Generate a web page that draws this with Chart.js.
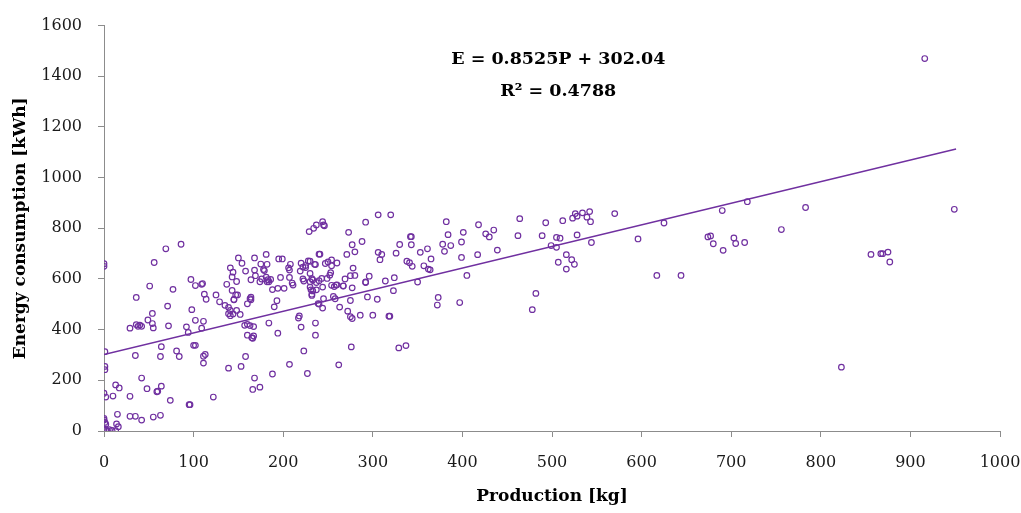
<!DOCTYPE html>
<html lang="en">
<head>
  <meta charset="UTF-8">
  <title>Energy vs Production</title>
  <script src="https://cdn.jsdelivr.net/npm/chart.js"></script>
  <style>
    body { margin: 0; background: #fff; }
    #wrap { position: relative; width: 1021px; height: 513px; }
  </style>
</head>
<body>
  <div id="wrap">
    <canvas id="scatterChart"></canvas>
  </div>

  <script>
    // production [kg] and energy consumption [kWh], one entry per point
    const production = [
      0, 0, 1, 1, 1, 0, 2, 0, 0, 1, 2, 0, 2, 4, 6, 9, 13, 10, 13, 17, 14, 16,
      69, 86, 56, 97, 102, 109, 110, 112, 114, 51, 77, 36, 71, 54, 49, 54, 55, 29, 36, 38, 40, 42, 72, 92, 98, 102, 94, 109, 111,
      35, 64, 63, 81, 84, 100, 102, 111, 113, 111, 42, 29, 48, 59, 60, 64, 74, 95, 96, 122, 15, 29, 35, 42, 55, 63,
      229, 234, 237, 240, 150, 168, 181, 154, 141, 144, 158, 168, 175, 182, 178, 179, 195, 199, 208, 206, 207, 220, 222, 225, 225, 219, 228, 235,
      143, 148, 169, 164, 174, 176, 181, 183, 184, 182, 186, 197, 207, 210, 211, 222, 223, 230, 233, 237, 137, 188, 194, 201, 143, 147, 149, 145, 145,
      125, 129, 135, 139, 141, 139, 141, 144, 148, 152, 160, 163, 164, 164, 193, 190, 231, 237, 232, 239, 240,
      157, 160, 163, 167, 160, 165, 166, 167, 184, 194, 217, 218, 220, 236, 236, 223, 158, 139, 153, 207, 188, 168, 227, 166, 174,
      244, 245, 246, 306, 320, 292, 273, 277, 288, 271, 280, 241, 230, 236, 247, 250, 254, 260, 254, 230, 232, 240, 243, 253, 252, 249,
      278, 275, 280, 269, 267, 277, 296, 292, 292, 314, 324, 323, 306, 310, 308, 326, 330, 342, 343, 343, 338, 341, 344, 353, 361, 357, 362, 350,
      230, 233, 232, 244, 254, 257, 259, 260, 267, 258, 256, 245, 244, 263, 275, 294, 305, 272, 275, 277, 286, 300, 318, 319, 276, 329, 337, 262,
      365, 364, 382, 384, 378, 380, 387, 401, 399, 399, 405, 418, 417, 426, 430, 435, 439, 464, 462, 493, 489, 505, 499, 505, 512, 507, 516, 516,
      373, 372, 397, 482, 478,
      523, 526, 528, 534, 539, 542, 543, 528, 544, 570, 509, 522, 525, 596, 625, 617, 644, 674, 677, 680, 691, 690, 703, 705, 715, 718,
      916, 783, 756, 949, 856, 867, 869, 875, 877, 823
    ];
    const energy = [
      660, 650, 313, 255, 242, 149, 134, 50, 43, 34, 27, 8, 3, 0, 5, 2, 1, 138, 182, 170, 28, 17,
      719, 737, 665, 598, 574, 579, 582, 540, 520, 572, 559, 527, 493, 464, 438, 424, 407, 406, 420, 413, 418, 413, 415, 411, 479, 437, 389, 406, 433,
      298, 333, 294, 316, 294, 338, 338, 295, 302, 268, 209, 137, 167, 155, 157, 177, 121, 104, 104, 134, 66, 58, 58, 43, 55, 62,
      787, 800, 813, 698, 683, 683, 697, 662, 644, 627, 631, 635, 659, 658, 637, 633, 679, 679, 658, 644, 635, 662, 647, 645, 653, 631, 671, 658,
      608, 590, 613, 597, 589, 600, 607, 597, 589, 589, 598, 606, 606, 584, 576, 600, 592, 589, 596, 586, 579, 558, 563, 563, 555, 537, 537, 518, 519,
      537, 510, 496, 488, 476, 463, 455, 462, 476, 460, 502, 522, 528, 518, 514, 490, 557, 557, 535, 503, 501,
      417, 421, 416, 412, 378, 368, 366, 375, 426, 386, 446, 454, 410, 426, 378, 316, 294, 248, 255, 263, 225, 209, 227, 164, 173,
      826, 813, 810, 853, 853, 824, 784, 735, 748, 697, 707, 698, 670, 657, 661, 667, 675, 663, 652, 622, 601, 593, 602, 625, 615, 602,
      643, 613, 614, 600, 572, 565, 611, 586, 588, 592, 605, 554, 705, 697, 676, 702, 736, 767, 767, 735, 670, 664, 650, 705, 719, 652, 639, 588,
      568, 553, 540, 568, 575, 570, 576, 577, 573, 522, 531, 522, 485, 489, 515, 529, 520, 473, 451, 444, 457, 457, 453, 453, 332, 328, 337, 261,
      679, 636, 826, 775, 737, 709, 732, 784, 746, 685, 614, 814, 696, 778, 766, 793, 714, 838, 771, 822, 771, 764, 732, 725, 830, 666, 696, 639,
      527, 497, 507, 543, 479,
      840, 858, 848, 861, 844, 866, 826, 774, 744, 858, 761, 676, 658, 758, 821, 614, 614, 766, 770, 739, 713, 870, 762, 740, 744, 905,
      1470, 882, 795, 875, 697, 700, 700, 706, 667, 252
    ];

    // linear fit shown on the chart
    const slope = 0.8525;
    const intercept = 302.04;
    const fitRange = [0, 951];

    const xTicks = [0, 100, 200, 300, 400, 500, 600, 700, 800, 900, 1000];
    const yTicks = [0, 200, 400, 600, 800, 1000, 1200, 1400, 1600];
    const fitLabel = ['E = 0.8525P + 302.04', 'R² = 0.4788'];

    const purple = '#7030A0';
    const axisGray = '#8c8c8c';
    const serif = '"Palatino Linotype", "Book Antiqua", Palatino, "DejaVu Serif", serif';

    const points = production.map((p, i) => ({ x: p, y: energy[i] }));
    const fitLine = fitRange.map(p => ({ x: p, y: slope * p + intercept }));

    const equationLabel = {
      id: 'equationLabel',
      afterDatasetsDraw(chart) {
        const { ctx, scales: { x, y } } = chart;
        ctx.save();
        ctx.font = 'bold 17.5px ' + serif;
        ctx.fillStyle = '#000';
        ctx.textAlign = 'center';
        ctx.textBaseline = 'middle';
        ctx.fillText(fitLabel[0], x.getPixelForValue(507), y.getPixelForValue(1465));
        ctx.fillText(fitLabel[1], x.getPixelForValue(507), y.getPixelForValue(1340));
        ctx.restore();
      }
    };

    const plainNumber = v => String(v);

    new Chart(document.getElementById('scatterChart').getContext('2d'), {
      type: 'scatter',
      data: {
        datasets: [
          {
            label: 'Measurements',
            data: points,
            pointStyle: 'circle',
            pointRadius: 2.8,
            pointBorderWidth: 1.2,
            borderColor: purple,
            backgroundColor: 'rgba(0,0,0,0)',
            order: 2
          },
          {
            type: 'line',
            label: 'Linear fit',
            data: fitLine,
            borderColor: purple,
            borderWidth: 1.4,
            pointRadius: 0,
            fill: false,
            order: 1
          }
        ]
      },
      options: {
        responsive: true,
        maintainAspectRatio: false,
        animation: false,
        layout: { padding: { top: 20, right: 0, bottom: 0, left: 0 } },
        plugins: {
          legend: { display: false },
          tooltip: { enabled: false }
        },
        scales: {
          x: {
            type: 'linear',
            min: 0,
            max: 1000,
            afterFit: s => { s.height = 82; s.paddingRight = 21; },
            afterBuildTicks: s => { s.ticks = xTicks.map(v => ({ value: v })); },
            border: { color: axisGray, width: 1 },
            grid: { drawOnChartArea: false, color: axisGray, tickLength: 6 },
            ticks: { padding: 16, color: '#1a1a1a', font: { family: serif, size: 16 }, callback: plainNumber },
            title: {
              display: true,
              text: 'Production [kg]',
              color: '#000',
              padding: { top: 0, bottom: 6 },
              font: { family: serif, size: 17, weight: 'bold' }
            }
          },
          y: {
            type: 'linear',
            min: 0,
            max: 1600,
            afterFit: s => { s.width = 104; },
            afterBuildTicks: s => { s.ticks = yTicks.map(v => ({ value: v })); },
            border: { color: axisGray, width: 1 },
            grid: { drawOnChartArea: false, color: axisGray, tickLength: 6 },
            ticks: { padding: 16, color: '#1a1a1a', font: { family: serif, size: 16 }, callback: plainNumber },
            title: {
              display: true,
              text: 'Energy consumption [kWh]',
              color: '#000',
              padding: { top: 10, bottom: 0 },
              font: { family: serif, size: 17, weight: 'bold' }
            }
          }
        }
      },
      plugins: [equationLabel]
    });
  </script>
</body>
</html>
